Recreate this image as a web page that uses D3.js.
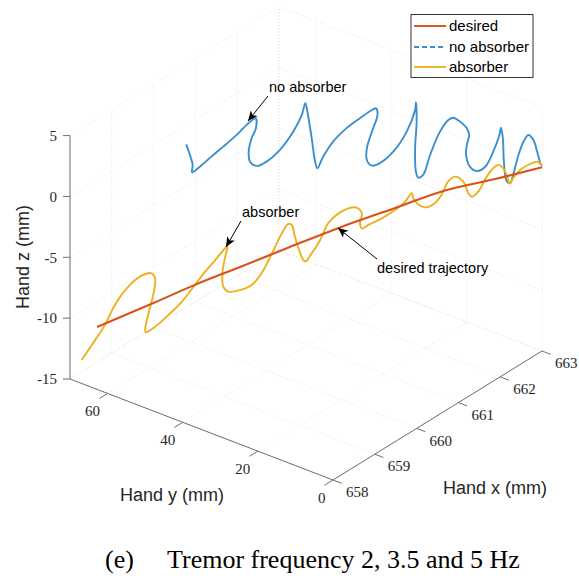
<!DOCTYPE html>
<html><head><meta charset="utf-8">
<script src="https://cdn.jsdelivr.net/npm/d3@7"></script>
<style>body{margin:0;background:#fff}svg{display:block}</style>
</head><body>
<svg id="c" width="579" height="579"></svg>
<script>
// ---- data ----
const xTicks=[658,659,660,661,662,663];
const yTicks=[0,20,40,60];
const zTicks=[-15,-10,-5,0,5];
const seriesNames=["desired","no absorber","absorber"];

const desiredX=[658.000,658.618,659.101,659.607,660.169,660.730,661.348,661.910,662.472,663.000];
const desiredY=[62.8,55.0,49.0,42.6,35.6,28.5,20.7,13.7,6.6,0.0];
const desiredZ=[-9.87,-8.33,-7.11,-5.95,-4.67,-3.41,-2.20,-1.12,-0.53,0.10];

const noAbsX=[659.000,659.045,659.075,659.067,659.157,659.307,659.419,659.570,659.682,659.756,659.787,659.787,659.738,659.704,659.719,659.794,659.907,660.056,660.206,660.300,660.340,660.363,660.412,660.449,660.475,660.543,660.655,660.806,660.955,661.087,661.135,661.149,661.087,661.030,661.030,661.087,661.180,661.329,661.480,661.573,661.584,661.592,661.573,661.584,661.610,661.666,661.742,661.854,661.947,662.003,662.079,662.154,662.183,662.154,662.146,662.191,662.266,662.360,662.453,662.520,662.539,662.558,662.573,662.603,662.640,662.678,662.734,662.790,662.846,662.902,662.947,662.985];
const noAbsY=[50.2,49.7,49.3,49.4,48.3,46.4,45.0,43.1,41.7,40.7,40.4,40.4,41.0,41.4,41.2,40.3,38.9,37.0,35.1,33.9,33.4,33.1,32.5,32.0,31.7,30.9,29.5,27.6,25.7,24.0,23.4,23.2,24.0,24.7,24.7,24.0,22.9,21.0,19.1,17.9,17.8,17.7,17.9,17.8,17.5,16.8,15.8,14.4,13.2,12.5,11.6,10.6,10.3,10.6,10.7,10.2,9.2,8.0,6.9,6.0,5.8,5.5,5.4,5.0,4.5,4.1,3.3,2.6,1.9,1.2,0.7,0.2];
const noAbsZ=[4.51,3.60,2.76,2.17,2.57,3.44,4.05,4.92,5.67,6.11,6.14,5.33,4.54,3.46,2.63,2.23,2.51,3.38,4.79,6.10,7.04,6.33,4.11,2.17,1.61,2.52,3.68,4.69,5.42,6.01,6.12,5.56,4.23,2.90,1.94,1.44,1.58,2.43,3.98,5.71,6.33,4.73,2.56,0.63,0.12,0.31,1.90,3.75,4.65,4.80,4.43,3.84,3.27,2.46,1.65,0.66,0.26,0.55,1.72,3.06,3.64,2.76,0.83,-0.78,-0.99,-0.33,1.28,2.33,2.85,2.40,1.41,0.30];

const absX=[658.000,658.000,658.090,658.202,658.352,658.502,658.607,658.652,658.633,658.584,658.539,658.547,658.652,658.801,658.952,659.101,659.213,659.326,659.438,659.469,659.438,659.408,659.419,659.475,659.588,659.738,659.851,659.963,660.075,660.149,660.188,660.225,660.270,660.318,660.345,660.412,660.506,660.599,660.711,660.824,660.918,660.974,660.955,660.974,661.048,661.199,661.348,661.461,661.536,661.554,661.610,661.697,661.798,661.876,661.944,662.022,662.116,662.172,662.210,662.284,662.379,662.453,662.509,662.565,662.610,662.633,662.678,662.753,662.865,662.940,662.989,662.997];
const absY=[66.9,64.2,61.7,60.3,58.4,56.5,55.2,54.6,54.9,55.5,56.0,55.9,54.6,52.7,50.8,49.0,47.6,46.1,44.7,44.4,44.7,45.1,45.0,44.3,42.9,41.0,39.6,38.1,36.7,35.8,35.3,34.9,34.3,33.7,33.4,32.5,31.3,30.2,28.7,27.3,26.2,25.4,25.7,25.4,24.5,22.6,20.7,19.3,18.4,18.2,17.5,16.4,15.1,14.1,13.3,12.3,11.1,10.4,9.9,9.0,7.8,6.9,6.2,5.5,4.9,4.6,4.1,3.1,1.7,0.7,0.1,0.0];
const absZ=[-13.07,-11.52,-9.76,-8.19,-6.78,-5.97,-5.84,-6.28,-7.64,-8.98,-10.46,-10.65,-10.26,-9.39,-8.38,-7.11,-6.12,-5.20,-4.31,-4.20,-5.01,-6.35,-7.45,-7.90,-7.89,-7.52,-6.63,-5.06,-3.48,-2.76,-2.87,-3.85,-4.97,-5.83,-5.98,-5.34,-4.30,-2.99,-2.24,-1.90,-1.91,-2.41,-3.21,-3.64,-3.41,-2.96,-2.37,-1.76,-1.11,-1.54,-2.07,-2.38,-2.08,-1.39,-0.44,-0.06,-0.53,-1.52,-1.82,-1.46,-0.28,0.36,0.60,0.29,-0.43,-0.99,-0.60,0.03,0.45,0.60,0.38,0.15];

// ---- layout ----
const svg=d3.select("#c");
const xS=d3.scaleLinear().domain([658,663]).range([0,1]);
const yS=d3.scaleLinear().domain([0,70]).range([0,1]);
const zS=d3.scaleLinear().domain([-15,5]).range([0,1]);
const O=[333,480], AX=[209,-129], AY=[-263,-101], AZ=[0,-243.4];
function P(x,y,z){const a=xS(x),b=yS(y),c=zS(z);
  return [O[0]+a*AX[0]+b*AY[0]+c*AZ[0], O[1]+a*AX[1]+b*AY[1]+c*AZ[1]];}
const [x0,x1]=xS.domain(),[y0,y1]=yS.domain(),[z0,z1]=zS.domain();

const COL={desired:"#D95319",noabs:"#3A8FCF",abs:"#EDB120"};
const axisCol="#6e6e6e", txtCol="#262626";

// grid
const grid=svg.append("g").attr("fill","none").attr("stroke","#dadada").attr("stroke-width",0.7).attr("stroke-dasharray","1,2.2");
function seg(g,a,b){g.append("line").attr("x1",a[0]).attr("y1",a[1]).attr("x2",b[0]).attr("y2",b[1]);}
xTicks.forEach(v=>{seg(grid,P(v,y0,z0),P(v,y1,z0));seg(grid,P(v,y1,z0),P(v,y1,z1));});
yTicks.forEach(v=>{seg(grid,P(x0,v,z0),P(x1,v,z0));seg(grid,P(x1,v,z0),P(x1,v,z1));});
zTicks.forEach(v=>{seg(grid,P(x0,y1,v),P(x1,y1,v));seg(grid,P(x1,y0,v),P(x1,y1,v));});
seg(grid,P(x0,y1,z0),P(x1,y1,z0));
seg(grid,P(x1,y1,z0),P(x1,y1,z1));

// axes
const ax=svg.append("g").attr("stroke",axisCol).attr("stroke-width",1).attr("fill","none");
seg(ax,P(x0,y1,z0),P(x0,y1,z1));
seg(ax,P(x0,y0,z0),P(x0,y1,z0));
seg(ax,P(x0,y0,z0),P(x1,y0,z0));
const tl=svg.append("g").attr("font-family","'Liberation Serif','Times New Roman',serif").attr("font-size",15).attr("fill",txtCol);
zTicks.forEach(v=>{const p=P(x0,y1,v);seg(ax,p,[p[0]-7,p[1]]);
  tl.append("text").attr("x",p[0]-13).attr("y",p[1]).attr("dy","0.35em").attr("text-anchor","end").text(v);});
yTicks.forEach(v=>{const p=P(x0,v,z0);const q=P(x0-0.2,v,z0);seg(ax,p,q);
  tl.append("text").attr("x",p[0]-7.5).attr("y",p[1]+17.5).attr("dy","0.35em").attr("text-anchor","end").text(v);});
xTicks.forEach(v=>{const p=P(v,y0,z0);const q=P(v,y0-2.3,z0);seg(ax,p,q);
  tl.append("text").attr("x",p[0]+13).attr("y",p[1]+12).attr("dy","0.35em").attr("text-anchor","start").text(v);});

// axis labels
const lab=svg.append("g").attr("font-family","'Liberation Sans',Arial,sans-serif").attr("font-size",18).attr("fill",txtCol).attr("text-anchor","middle");
lab.append("text").attr("transform","translate(29,257) rotate(-90)").text("Hand z (mm)");
lab.append("text").attr("x",172).attr("y",501).text("Hand y (mm)");
lab.append("text").attr("x",495).attr("y",494).text("Hand x (mm)");

// curves
const line=d3.line().curve(d3.curveCatmullRom.alpha(0.5));
function pts(X,Y,Z){return X.map((x,i)=>P(x,Y[i],Z[i]));}
svg.append("path").attr("d",line(pts(noAbsX,noAbsY,noAbsZ))).attr("fill","none").attr("stroke",COL.noabs).attr("stroke-width",1.9);
svg.append("path").attr("d",line(pts(absX,absY,absZ))).attr("fill","none").attr("stroke",COL.abs).attr("stroke-width",1.9);
svg.append("path").attr("d",line(pts(desiredX,desiredY,desiredZ))).attr("fill","none").attr("stroke",COL.desired).attr("stroke-width",2.1);

// annotations
const defs=svg.append("defs");
defs.append("marker").attr("id","ah").attr("viewBox","0 0 10 10").attr("refX",10).attr("refY",5)
 .attr("markerWidth",10).attr("markerHeight",10).attr("markerUnits","userSpaceOnUse").attr("orient","auto")
 .append("path").attr("d","M0,0.6 L10,5 L0,9.4 L2.6,5 Z").attr("fill","#000");
const ann=svg.append("g").attr("font-family","'Liberation Sans',Arial,sans-serif").attr("font-size",14.5).attr("fill","#000");
[[268,96,248,121,269,92,"no absorber"],[241,221,226,247,242,216.5,"absorber"],[377,259,338,228,377,273,"desired trajectory"]]
 .forEach(a=>{svg.append("line").attr("x1",a[0]).attr("y1",a[1]).attr("x2",a[2]).attr("y2",a[3]).attr("stroke","#000").attr("stroke-width",1).attr("marker-end","url(#ah)");
   ann.append("text").attr("x",a[4]).attr("y",a[5]).text(a[6]);});

// legend
const lg=svg.append("g");
lg.append("rect").attr("x",411).attr("y",14.5).attr("width",122).attr("height",63).attr("fill","#fff").attr("stroke","#333").attr("stroke-width",1);
const lcols=[COL.desired,COL.noabs,COL.abs], ldash=[null,"5,3",null], ly=[26,47,67];
seriesNames.forEach((n,i)=>{
  lg.append("line").attr("x1",414).attr("x2",446).attr("y1",ly[i]).attr("y2",ly[i]).attr("stroke",lcols[i]).attr("stroke-width",1.9).attr("stroke-dasharray",ldash[i]);
  lg.append("text").attr("x",449).attr("y",ly[i]+5.3).attr("font-family","'Liberation Sans',Arial,sans-serif").attr("font-size",15).attr("fill","#000").text(n);
});

// caption
const cap=svg.append("g").attr("font-family","'Liberation Serif','Times New Roman',serif").attr("font-size",26).attr("fill","#000");
cap.append("text").attr("x",105).attr("y",568).text("(e)");
cap.append("text").attr("x",167).attr("y",568).text("Tremor frequency 2, 3.5 and 5 Hz");
</script>
</body></html>
